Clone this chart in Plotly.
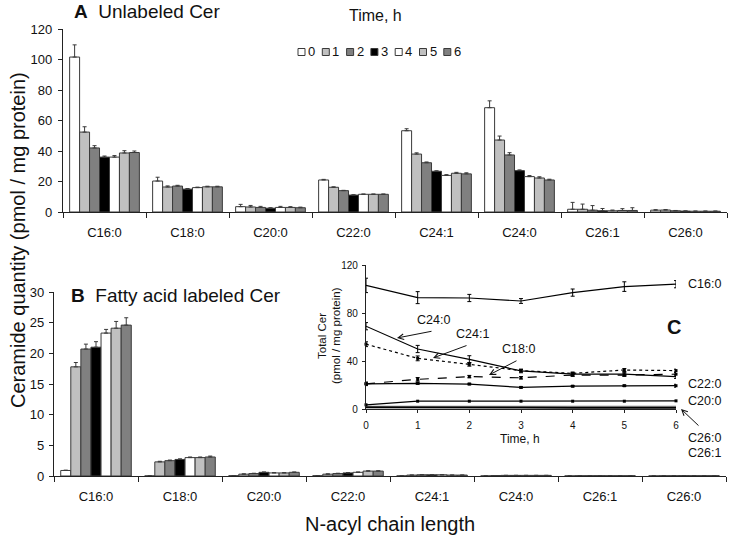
import plotly.graph_objects as go

W, H = 729, 536
FONT = "Liberation Sans, Arial, sans-serif"

def fx(p):
    return p / W

def fy(p):
    return 1 - p / H

# ---------------- data ----------------
categories = ["C16:0", "C18:0", "C20:0", "C22:0", "C24:1", "C24:0", "C26:1", "C26:0"]
times = ["0", "1", "2", "3", "4", "5", "6"]

# Panel A: unlabeled Cer (pmol / mg protein), one list per time point (values per category)
unlabeled = {
    "0": [101.6, 20.3, 3.5, 21.0, 53.3, 68.4, 1.8, 1.2],
    "1": [52.4, 16.4, 3.3, 16.2, 38.0, 47.2, 1.8, 1.3],
    "2": [42.0, 17.0, 3.0, 14.0, 32.3, 37.4, 1.2, 0.8],
    "3": [36.0, 15.0, 2.5, 11.1, 26.7, 27.1, 0.8, 0.6],
    "4": [36.0, 16.0, 3.0, 11.6, 24.0, 23.2, 0.8, 0.5],
    "5": [38.7, 16.5, 3.0, 11.6, 25.4, 22.3, 1.0, 0.5],
    "6": [39.0, 16.5, 2.8, 11.6, 25.0, 21.0, 1.0, 0.5],
}
unlabeled_err = {
    "0": [8.0, 2.5, 1.5, 0.4, 1.3, 4.5, 4.5, 0.3],
    "1": [3.5, 0.7, 1.0, 0.3, 0.8, 2.6, 3.4, 0.3],
    "2": [1.5, 0.5, 0.7, 0.2, 0.5, 1.5, 3.0, 0.2],
    "3": [0.7, 0.4, 0.3, 0.2, 0.3, 0.5, 1.5, 0.1],
    "4": [1.0, 0.3, 0.7, 0.2, 0.5, 0.7, 0.5, 0.1],
    "5": [1.5, 0.4, 0.5, 0.2, 0.6, 0.8, 1.2, 0.1],
    "6": [1.0, 0.4, 0.4, 0.2, 0.7, 0.5, 1.8, 0.1],
}

# Panel B: fatty acid labeled Cer
labeled = {
    "0": [0.9, 0.02, 0.05, 0.05, 0.02, 0.02, 0.02, 0.02],
    "1": [17.8, 2.3, 0.3, 0.3, 0.15, 0.08, 0.05, 0.04],
    "2": [20.7, 2.5, 0.4, 0.4, 0.2, 0.1, 0.05, 0.04],
    "3": [21.0, 2.7, 0.6, 0.5, 0.2, 0.1, 0.05, 0.05],
    "4": [23.3, 3.0, 0.5, 0.6, 0.2, 0.1, 0.05, 0.05],
    "5": [24.1, 3.0, 0.5, 0.8, 0.15, 0.1, 0.05, 0.05],
    "6": [24.6, 3.1, 0.6, 0.8, 0.15, 0.1, 0.05, 0.05],
}
labeled_err = {
    "0": [0.05, 0.0, 0.0, 0.0, 0.0, 0.0, 0.0, 0.0],
    "1": [0.7, 0.1, 0.05, 0.05, 0.0, 0.0, 0.0, 0.0],
    "2": [0.8, 0.1, 0.05, 0.05, 0.0, 0.0, 0.0, 0.0],
    "3": [0.9, 0.1, 0.05, 0.05, 0.0, 0.0, 0.0, 0.0],
    "4": [0.6, 0.1, 0.05, 0.05, 0.0, 0.0, 0.0, 0.0],
    "5": [1.1, 0.1, 0.05, 0.05, 0.0, 0.0, 0.0, 0.0],
    "6": [1.2, 0.15, 0.05, 0.05, 0.0, 0.0, 0.0, 0.0],
}

# Panel C: total Cer over time
hours = [0, 1, 2, 3, 4, 5, 6]
total_c16 = [103, 92.8, 92.5, 90, 97, 102, 104]
total_c16_err = [6, 5, 3, 2, 3, 4, 3]
total_c24_0 = [69, 50, 41.4, 31.7, 29, 29, 27]
total_c24_0_err = [3, 3, 3, 1.5, 1.5, 1.5, 1.5]
total_c24_1 = [54, 42.2, 37.2, 32, 29.7, 32.5, 32]
total_c24_1_err = [2, 2, 1.5, 1, 1, 1.2, 1.2]
total_c18 = [21, 24.7, 27, 26, 28.3, 28.3, 29]
total_c18_err = [1.5, 1.5, 1, 1, 1, 1, 1.5]
total_c22 = [21, 21.4, 20.8, 18, 19, 19.4, 19.4]
total_c22_err = [0.8, 0.8, 0.6, 0.6, 0.6, 0.6, 1.2]
total_c20 = [3.5, 6.5, 6.5, 6.5, 6.5, 6.5, 6.8]
total_c26_1 = [2.0, 2.0, 1.9, 1.9, 1.9, 2.0, 2.0]
total_c26_0 = [1.3, 1.4, 1.2, 1.1, 1.0, 1.0, 1.0]

# ---------------- style ----------------
bar_colors = ["#ffffff", "#c0c0c0", "#808080", "#000000", "#ffffff", "#c0c0c0", "#808080"]
EDGE = "#3a3a3a"

fig = go.Figure()

for i, t in enumerate(times):
    fig.add_trace(go.Bar(
        x=categories, y=unlabeled[t], name=t,
        marker=dict(color=bar_colors[i], line=dict(color=EDGE, width=1)),
        error_y=dict(type="data", array=unlabeled_err[t], arrayminus=[0] * len(categories),
                     symmetric=False, color=EDGE, thickness=1, width=2),
        xaxis="x", yaxis="y", showlegend=False,
    ))
for i, t in enumerate(times):
    fig.add_trace(go.Bar(
        x=categories, y=labeled[t], name=t,
        marker=dict(color=bar_colors[i], line=dict(color=EDGE, width=1)),
        error_y=dict(type="data", array=labeled_err[t], arrayminus=[0] * len(categories),
                     symmetric=False, color=EDGE, thickness=1, width=2),
        xaxis="x2", yaxis="y2", showlegend=False,
    ))

def line(y, err=None, dash="solid", width=1.2, color="#000000", marker=True):
    d = dict(x=hours, y=y, mode="lines+markers" if marker else "lines",
             line=dict(color=color, width=width, dash=dash),
             marker=dict(symbol="square", size=3, color=color),
             xaxis="x3", yaxis="y3", showlegend=False, cliponaxis=False)
    if err is not None:
        d["error_y"] = dict(type="data", array=err, color="#000000", thickness=1, width=2)
    return go.Scatter(**d)

fig.add_trace(line(total_c26_1, width=1.5, color="#777777", marker=False))
fig.add_trace(line(total_c26_0, width=1.8, marker=False))
fig.add_trace(line(total_c20))
fig.add_trace(line(total_c22, total_c22_err))
fig.add_trace(line(total_c18, total_c18_err, dash="dash"))
fig.add_trace(line(total_c24_1, total_c24_1_err, dash="dot"))
fig.add_trace(line(total_c24_0, total_c24_0_err, marker=False))
fig.add_trace(line(total_c16, total_c16_err, marker=False))

axis_common = dict(showline=True, linecolor="#222222", linewidth=1.3, showgrid=False,
                   zeroline=False, ticks="outside", tickcolor="#222222", automargin=False,
                   tickfont=dict(family=FONT, size=12, color="#111111"))

fig.update_layout(
    template="none",
    width=W, height=H, autosize=False,
    margin=dict(l=0, r=0, t=0, b=0, pad=0, autoexpand=False),
    paper_bgcolor="white", plot_bgcolor="rgba(0,0,0,0)",
    barmode="group", bargap=0.16, bargroupgap=0,
    showlegend=False,
    font=dict(family=FONT, color="#111111"),
    xaxis=dict(axis_common, domain=[fx(63), fx(727)], type="category", tickson="boundaries",
               ticklen=5, anchor="y", ticklabelstandoff=8, tickfont=dict(family=FONT, size=13)),
    yaxis=dict(axis_common, domain=[fy(212), fy(29)], range=[0, 120], dtick=20, ticklen=4,
               anchor="x", ticklabelstandoff=3, tickfont=dict(family=FONT, size=13)),
    xaxis2=dict(axis_common, domain=[fx(54), fx(726)], type="category", tickson="boundaries",
                ticklen=5, anchor="y2", ticklabelstandoff=8, tickfont=dict(family=FONT, size=13)),
    yaxis2=dict(axis_common, domain=[fy(476), fy(292)], range=[0, 30], dtick=5, ticklen=4,
                anchor="x2", ticklabelstandoff=2, tickfont=dict(family=FONT, size=13)),
    xaxis3=dict(axis_common, domain=[fx(366), fx(676)], range=[0, 6], dtick=1, ticklen=3,
                anchor="y3", linewidth=1.2, ticklabelstandoff=4, tickfont=dict(family=FONT, size=10)),
    yaxis3=dict(axis_common, domain=[fy(409), fy(265)], range=[0, 120], dtick=40, ticklen=3,
                anchor="x3", linewidth=1.2, ticklabelstandoff=2, tickfont=dict(family=FONT, size=10)),
)

ann = []
def text(x, y, s, size, xanchor="center", angle=0, bold=False):
    ann.append(dict(x=fx(x), y=fy(y), xref="paper", yref="paper", text=f"<b>{s}</b>" if bold else s,
                    showarrow=False, xanchor=xanchor, yanchor="middle", textangle=angle,
                    borderpad=0, font=dict(family=FONT, size=size, color="#111111")))

def arrow(hx, hy, tx, ty):
    ann.append(dict(x=fx(hx), y=fy(hy), xref="paper", yref="paper", text="",
                    showarrow=True, ax=tx - hx, ay=ty - hy, arrowhead=5, arrowsize=1.1,
                    arrowwidth=1, arrowcolor="#111111", standoff=0, startstandoff=0))

text(73, 12, "<b>A</b>\u00a0\u00a0Unlabeled Cer", 19, xanchor="left")
text(70, 295, "<b>B</b>\u00a0\u00a0Fatty acid labeled Cer", 19, xanchor="left")
text(18, 240, "Ceramide quantity (pmol / mg protein)", 20, angle=-90)
text(390, 524, "N-acyl chain length", 20)
text(376, 15, "Time, h", 16)

# legend (manual, compact like the original)
shapes = []
for i, t in enumerate(times):
    lx = 298 + i * 24.3
    shapes.append(dict(type="rect", xref="paper", yref="paper",
                       x0=fx(lx), x1=fx(lx + 7), y0=fy(55.5), y1=fy(48.5),
                       fillcolor=bar_colors[i], line=dict(color=EDGE, width=1)))
    text(lx + 9, 52, t, 13, xanchor="left")

# inset C labels
text(322, 336, "Total Cer", 11.5, angle=-90)
text(336, 336, "(pmol / mg protein)", 11.5, angle=-90)
text(520, 439, "Time, h", 12)
text(674, 327, "C", 20, bold=True)
text(687, 284, "C16:0", 12.5, xanchor="left")
text(687, 384, "C22:0", 12.5, xanchor="left")
text(687, 401, "C20:0", 12.5, xanchor="left")
text(687, 438, "C26:0", 12.5, xanchor="left")
text(687, 453, "C26:1", 12.5, xanchor="left")
text(433, 320, "C24:0", 12.5)
text(472, 334, "C24:1", 12.5)
text(518, 349, "C18:0", 12.5)
arrow(397, 338, 433, 331)
arrow(433, 358, 468, 345)
arrow(489, 375, 518, 360)
arrow(681, 409, 700, 427)

fig.update_layout(annotations=ann, shapes=shapes)
fig.write_html("out.html", config={"displayModeBar": False},
               post_script="document.body.style.margin='0px';document.body.style.overflow='hidden';")
